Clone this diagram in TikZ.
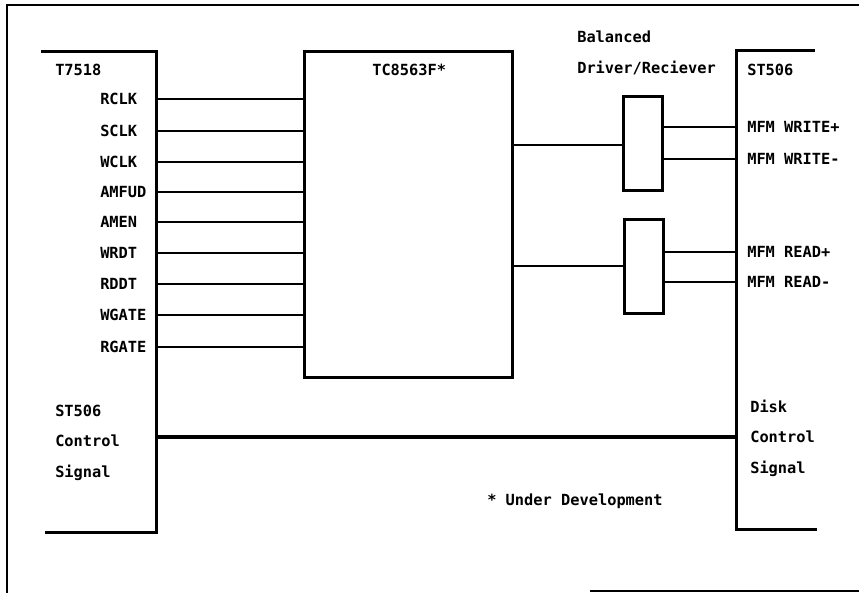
\documentclass[tikz,border=0pt]{standalone}
\usepackage{fontspec}
\setmonofont{DejaVu Sans Mono}
\usepackage{tikz}
\usetikzlibrary{positioning, fit, calc}

\begin{document}
\begin{tikzpicture}[x=0.75pt, y=-0.75pt,
    chip/.style={rectangle, inner sep=0pt, draw=none},
    outline/.style={line width=2.1pt, line cap=rect},
    wire/.style={line width=1pt},
    bus/.style={line width=2.4pt},
    label text/.style={font=\fontsize{11.5}{13}\selectfont\ttfamily\bfseries,
                       inner sep=0pt, anchor=west, text height=8pt, text depth=0pt},
]
    \useasboundingbox (0,0) rectangle (859,592);

    % ── Page frame ──
    \draw[outline] (7,592) |- (859,5);
    \draw[line width=1.5pt] (590,591) -- (859,591);

    % ── Blocks ──
    \node[chip, fit={(43,52) (156,532)}] (t7518) {};
    \node[chip, fit={(305,52) (512,377)}] (tc) {};
    \node[chip, fit={(737,51) (813,529)}] (st506) {};
    \node[chip, fit={(624,97) (662,190)}] (drvw) {};
    \node[chip, fit={(625,220) (663,313)}] (drvr) {};

    \draw[outline] (t7518.north west) -- (t7518.north east) -- (t7518.south east) -- ([xshift=3]t7518.south west);
    \draw[outline] (tc.north west) rectangle (tc.south east);
    \draw[outline] (st506.north east) -- (st506.north west) -- (st506.south west) -- ([xshift=2]st506.south east);
    \draw[outline] (drvw.north west) rectangle (drvw.south east);
    \draw[outline] (drvr.north west) rectangle (drvr.south east);

    % ── Titles ──
    \node[label text] (t7518title) at (55,70) {T7518};
    \node[label text] (tctitle) at (372,70) {TC8563F*};
    \node[label text] (st506title) at (747,70) {ST506};
    \node[label text] (balanced) at (577,37) {Balanced};
    \node[label text] (driver) at (577,68) {Driver/Reciever};

    % ── T7518 <-> TC8563F ──
    \foreach \sig/\y in {RCLK/99, SCLK/131, WCLK/162, AMFUD/192, AMEN/222,
                         WRDT/253, RDDT/284, WGATE/315, RGATE/347} {
        \node[label text] (\sig) at (100,\y) {\sig};
        \draw[wire] (t7518.east |- \sig) -- (tc.west |- \sig);
    }

    % ── TC8563F <-> driver/receiver ──
    \coordinate (wout) at (512,145);
    \coordinate (rin) at (512,266);
    \draw[wire] (tc.east |- wout) -- (drvw.west |- wout);
    \draw[wire] (tc.east |- rin) -- (drvr.west |- rin);

    % ── Driver/receiver <-> ST506 ──
    \node[label text] (wplus) at (747,127) {MFM WRITE+};
    \node[label text] (wminus) at (747,159) {MFM WRITE-};
    \node[label text] (rplus) at (747,252) {MFM READ+};
    \node[label text] (rminus) at (747,282) {MFM READ-};
    \draw[wire] (drvw.east |- wplus) -- (st506.west |- wplus);
    \draw[wire] (drvw.east |- wminus) -- (st506.west |- wminus);
    \draw[wire] (drvr.east |- rplus) -- (st506.west |- rplus);
    \draw[wire] (drvr.east |- rminus) -- (st506.west |- rminus);

    % ── Control signals ──
    \node[label text] (st506ctl) at (55,411) {ST506};
    \node[label text] (ctlleft) at (55,441) {Control};
    \node[label text] (sigleft) at (55,472) {Signal};
    \node[label text] (disk) at (750,407) {Disk};
    \node[label text] (ctlright) at (750,437) {Control};
    \node[label text] (sigright) at (750,468) {Signal};
    \coordinate (busl) at (156,437);
    \draw[bus] (t7518.east |- busl) -- (st506.west |- busl);

    \node[label text] (note) at (487,500) {* Under Development};

\end{tikzpicture}
\end{document}
